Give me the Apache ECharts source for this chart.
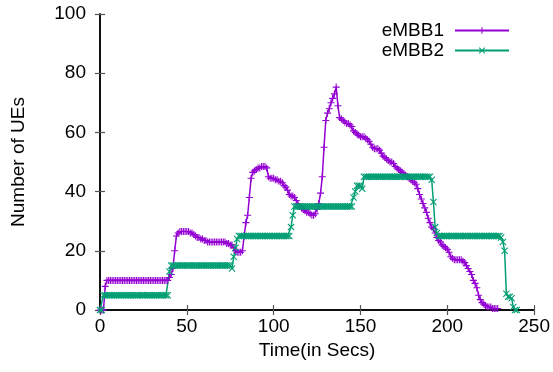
<!DOCTYPE html>
<html><head><meta charset="utf-8">
<script src="https://cdn.jsdelivr.net/npm/echarts@6/dist/echarts.min.js"></script>
<style>html,body{margin:0;padding:0;background:#fff}#c{width:553px;height:372px}</style>
</head><body><div id="c"></div>
<script>
// Time in seconds (one sample per second)
const embb1Values = [
0,0,0,8,10,10,10,10,10,10, 10,10,10,10,10,10,10,10,10,10,
10,10,10,10,10,10,10,10,10,10, 10,10,10,10,10,10,10,10,10,10,
11,12,14,20,25,26,26.5,26.5,26.5,26.5, 26.5,26.5,26,26,25.5,25,24.5,24.5,24,24,
23.5,23.5,23,23,23,23,23,23,23,23, 23,23,23,22.5,22.5,22,22,21,20,19.5,
19.5,19.5,20,25,29.5,32,38,44.5,46.5,47,47.5,48,48,48.5,48.5,48.5,48,45,44.5,44.5,
44.5,44,44,43.5,43.5,43,42,41.5,40.5,39,38.5,38.5,38,37,36,35,34.5,34,33.5,33,
33,32.5,32,32,32.5,34,36,39.5,45,55,64,66.5,68,70,71.5,73,75.3,69,65,64.5,
64,63.5,63,63,62.5,62,60.5,60,59.5,59,58.5,58.5,58.5,58,57.5,57,56,55,54.5,54.5,
54.5,54,53,52,51.5,51,50.5,50,50,49.5,48.5,48,47.5,47,46.5,46,45.5,45,44.5,44,
43.5,43,42.5,41,39,37.5,36,34.5,33,31,29.5,28,27.5,26,24.5,23.5,23,22,21.5,21,
20.5,19.5,18,17.5,17,17,17,17,17,16.5, 16,15,14,13,12,10,9,7.5,5,3.5,
2.5,2,1.5,1,1,1,0.5,0.5,0.5,0.5
];
const embb2Values = [
0,0,5,5,5,5,5,5,5,5, 5,5,5,5,5,5,5,5,5,5,
5,5,5,5,5,5,5,5,5,5, 5,5,5,5,5,5,5,5,5,5,
13,15,15,15,15,15,15,15,15,15, 15,15,15,15,15,15,15,15,15,15,
15,15,15,15,15,15,15,15,15,15, 15,15,15,15,15,15,14,18,21,24,
25,25,25,25,25,25,25,25,25,25, 25,25,25,25,25,25,25,25,25,25,
25,25,25,25,25,25,25,25,25,25, 28,32,35,35,35,35,35,35,35,35,
35,35,35,35,35,35,35,35,35,35, 35,35,35,35,35,35,35,35,35,35,
35,35,35,35,35,35,38,40,42,42, 42,41,45,45,45,45,45,45,45,45,
45,45,45,45,45,45,45,45,45,45, 45,45,45,45,45,45,45,45,45,45,
45,45,45,45,45,45,45,45,45,45, 45,44,36.5,28,26,25,25,25,25,25,
25,25,25,25,25,25,25,25,25,25, 25,25,25,25,25,25,25,25,25,25,
25,25,25,25,25,25,25,25,25,25, 25,24.5,23,20,5.5,4.5,4.5,4,1,0,
0
];
const seriesNames = ['eMBB1', 'eMBB2'];
const xTicks = [0, 50, 100, 150, 200, 250];
const yTicks = [0, 20, 40, 60, 80, 100];

const toPairs = arr => arr.map((v, i) => [i, v]);
const plusPath = 'path://M4.2,0H5.8V10H4.2Z M0,4.2H10V5.8H0Z';
const crossPath = 'path://M0,1.1L1.1,0L10,8.9L8.9,10Z M8.9,0L10,1.1L1.1,10L0,8.9Z';
const font = 'Liberation Sans, Arial, Helvetica, sans-serif';
const fs = 19;

const chart = echarts.init(document.getElementById('c'), null, {renderer: 'canvas'});
const axisLine = {show: true, lineStyle: {color: '#000', width: 1.5}};
const tick = {show: true, inside: true, length: 5, lineStyle: {color: '#555', width: 1.2}};
chart.setOption({
  animation: false,
  backgroundColor: '#fff',
  grid: {left: 100, right: 18, top: 14, bottom: 62, containLabel: false},
  legend: {
    data: seriesNames,
    orient: 'vertical',
    right: 38, top: 16,
    align: 'right',
    itemWidth: 54, itemHeight: 8, itemGap: 1,
    textStyle: {fontFamily: font, fontSize: fs, color: '#000', padding: [0, 6, 0, 0]}
  },
  xAxis: [{
    type: 'value', min: xTicks[0], max: xTicks[xTicks.length - 1], interval: 50,
    position: 'bottom',
    name: 'Time(in Secs)', nameLocation: 'middle', nameGap: 31,
    nameTextStyle: {fontFamily: font, fontSize: fs, color: '#000'},
    axisLine: axisLine, axisTick: tick, splitLine: {show: false},
    axisLabel: {fontFamily: font, fontSize: fs, color: '#000', margin: 7}
  }, {
    type: 'value', min: 0, max: 250, interval: 50, position: 'top',
    axisLine: axisLine, axisTick: tick, splitLine: {show: false}, axisLabel: {show: false}
  }],
  yAxis: [{
    type: 'value', min: yTicks[0], max: yTicks[yTicks.length - 1], interval: 20,
    position: 'left',
    name: 'Number of UEs', nameLocation: 'middle', nameGap: 72, nameRotate: 90,
    nameTextStyle: {fontFamily: font, fontSize: fs, color: '#000'},
    axisLine: axisLine, axisTick: tick, splitLine: {show: false},
    axisLabel: {fontFamily: font, fontSize: fs, color: '#000', margin: 14}
  }, {
    type: 'value', min: 0, max: 100, interval: 20, position: 'right',
    axisLine: axisLine, axisTick: tick, splitLine: {show: false}, axisLabel: {show: false}
  }],
  series: [{
    name: seriesNames[0], type: 'line', data: toPairs(embb1Values),
    symbol: plusPath, symbolSize: 7, showAllSymbol: true,
    lineStyle: {color: '#9400d3', width: 1.5},
    itemStyle: {color: '#9400d3'}
  }, {
    name: seriesNames[1], type: 'line', data: toPairs(embb2Values),
    symbol: crossPath, symbolSize: 7, showAllSymbol: true,
    lineStyle: {color: '#009e73', width: 1.5},
    itemStyle: {color: '#009e73'}
  }]
});
</script></body></html>
